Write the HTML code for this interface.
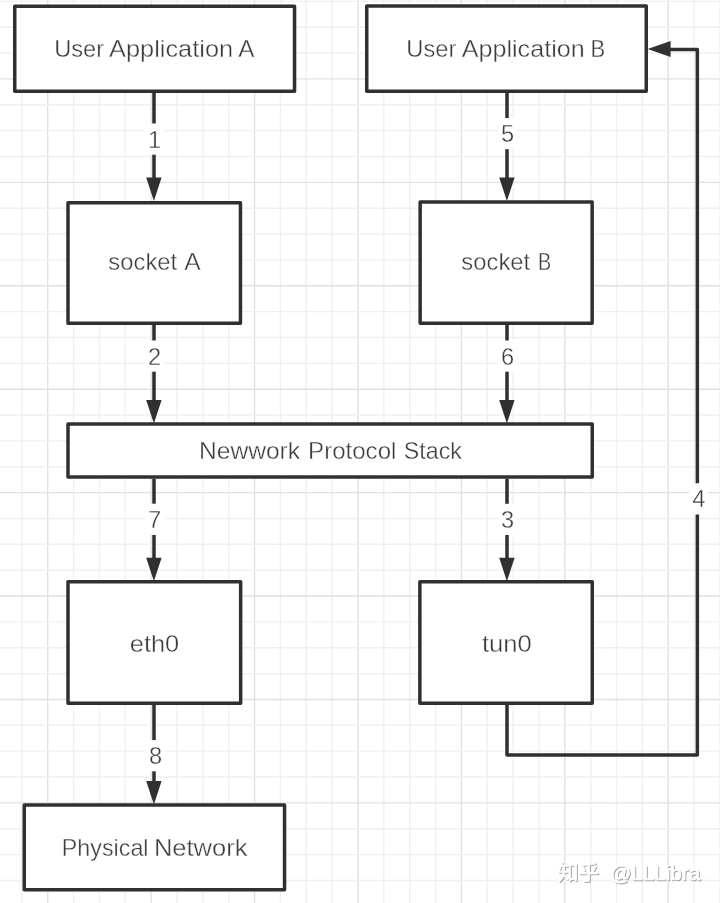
<!DOCTYPE html>
<html lang="en">
<head>
<meta charset="utf-8">
<title>TUN device data flow</title>
<style>
html,body{margin:0;padding:0;background:#ffffff;}
body{width:720px;height:903px;overflow:hidden;font-family:"Liberation Sans", "Noto Sans CJK SC", sans-serif;}
svg{display:block;font-family:"Liberation Sans", "Noto Sans CJK SC", sans-serif;}
</style>
</head>
<body>
<svg width="720" height="903" viewBox="0 0 720 903">
<rect x="0" y="0" width="720" height="903" fill="#ffffff"/>
<g stroke-width="1.4"><line x1="21.85" y1="0" x2="21.85" y2="903" stroke="#f0f0f0"/><line x1="47.71" y1="0" x2="47.71" y2="903" stroke="#e1e1e1"/><line x1="73.56" y1="0" x2="73.56" y2="903" stroke="#f0f0f0"/><line x1="99.42" y1="0" x2="99.42" y2="903" stroke="#f0f0f0"/><line x1="125.27" y1="0" x2="125.27" y2="903" stroke="#f0f0f0"/><line x1="151.13" y1="0" x2="151.13" y2="903" stroke="#e1e1e1"/><line x1="176.99" y1="0" x2="176.99" y2="903" stroke="#f0f0f0"/><line x1="202.84" y1="0" x2="202.84" y2="903" stroke="#f0f0f0"/><line x1="228.70" y1="0" x2="228.70" y2="903" stroke="#f0f0f0"/><line x1="254.55" y1="0" x2="254.55" y2="903" stroke="#e1e1e1"/><line x1="280.41" y1="0" x2="280.41" y2="903" stroke="#f0f0f0"/><line x1="306.27" y1="0" x2="306.27" y2="903" stroke="#f0f0f0"/><line x1="332.12" y1="0" x2="332.12" y2="903" stroke="#f0f0f0"/><line x1="357.98" y1="0" x2="357.98" y2="903" stroke="#e1e1e1"/><line x1="383.83" y1="0" x2="383.83" y2="903" stroke="#f0f0f0"/><line x1="409.69" y1="0" x2="409.69" y2="903" stroke="#f0f0f0"/><line x1="435.55" y1="0" x2="435.55" y2="903" stroke="#f0f0f0"/><line x1="461.40" y1="0" x2="461.40" y2="903" stroke="#e1e1e1"/><line x1="487.26" y1="0" x2="487.26" y2="903" stroke="#f0f0f0"/><line x1="513.11" y1="0" x2="513.11" y2="903" stroke="#f0f0f0"/><line x1="538.97" y1="0" x2="538.97" y2="903" stroke="#f0f0f0"/><line x1="564.83" y1="0" x2="564.83" y2="903" stroke="#e1e1e1"/><line x1="590.68" y1="0" x2="590.68" y2="903" stroke="#f0f0f0"/><line x1="616.54" y1="0" x2="616.54" y2="903" stroke="#f0f0f0"/><line x1="642.39" y1="0" x2="642.39" y2="903" stroke="#f0f0f0"/><line x1="668.25" y1="0" x2="668.25" y2="903" stroke="#e1e1e1"/><line x1="694.11" y1="0" x2="694.11" y2="903" stroke="#f0f0f0"/><line x1="719.96" y1="0" x2="719.96" y2="903" stroke="#f0f0f0"/><line x1="0" y1="1.34" x2="720" y2="1.34" stroke="#f0f0f0"/><line x1="0" y1="27.20" x2="720" y2="27.20" stroke="#f0f0f0"/><line x1="0" y1="53.06" x2="720" y2="53.06" stroke="#f0f0f0"/><line x1="0" y1="78.91" x2="720" y2="78.91" stroke="#e1e1e1"/><line x1="0" y1="104.77" x2="720" y2="104.77" stroke="#f0f0f0"/><line x1="0" y1="130.62" x2="720" y2="130.62" stroke="#f0f0f0"/><line x1="0" y1="156.48" x2="720" y2="156.48" stroke="#f0f0f0"/><line x1="0" y1="182.34" x2="720" y2="182.34" stroke="#e1e1e1"/><line x1="0" y1="208.19" x2="720" y2="208.19" stroke="#f0f0f0"/><line x1="0" y1="234.05" x2="720" y2="234.05" stroke="#f0f0f0"/><line x1="0" y1="259.90" x2="720" y2="259.90" stroke="#f0f0f0"/><line x1="0" y1="285.76" x2="720" y2="285.76" stroke="#e1e1e1"/><line x1="0" y1="311.62" x2="720" y2="311.62" stroke="#f0f0f0"/><line x1="0" y1="337.47" x2="720" y2="337.47" stroke="#f0f0f0"/><line x1="0" y1="363.33" x2="720" y2="363.33" stroke="#f0f0f0"/><line x1="0" y1="389.18" x2="720" y2="389.18" stroke="#e1e1e1"/><line x1="0" y1="415.04" x2="720" y2="415.04" stroke="#f0f0f0"/><line x1="0" y1="440.90" x2="720" y2="440.90" stroke="#f0f0f0"/><line x1="0" y1="466.75" x2="720" y2="466.75" stroke="#f0f0f0"/><line x1="0" y1="492.61" x2="720" y2="492.61" stroke="#e1e1e1"/><line x1="0" y1="518.46" x2="720" y2="518.46" stroke="#f0f0f0"/><line x1="0" y1="544.32" x2="720" y2="544.32" stroke="#f0f0f0"/><line x1="0" y1="570.18" x2="720" y2="570.18" stroke="#f0f0f0"/><line x1="0" y1="596.03" x2="720" y2="596.03" stroke="#e1e1e1"/><line x1="0" y1="621.89" x2="720" y2="621.89" stroke="#f0f0f0"/><line x1="0" y1="647.74" x2="720" y2="647.74" stroke="#f0f0f0"/><line x1="0" y1="673.60" x2="720" y2="673.60" stroke="#f0f0f0"/><line x1="0" y1="699.46" x2="720" y2="699.46" stroke="#e1e1e1"/><line x1="0" y1="725.31" x2="720" y2="725.31" stroke="#f0f0f0"/><line x1="0" y1="751.17" x2="720" y2="751.17" stroke="#f0f0f0"/><line x1="0" y1="777.02" x2="720" y2="777.02" stroke="#f0f0f0"/><line x1="0" y1="802.88" x2="720" y2="802.88" stroke="#e1e1e1"/><line x1="0" y1="828.74" x2="720" y2="828.74" stroke="#f0f0f0"/><line x1="0" y1="854.59" x2="720" y2="854.59" stroke="#f0f0f0"/><line x1="0" y1="880.45" x2="720" y2="880.45" stroke="#f0f0f0"/></g>
<g fill="#ffffff" stroke="#303030" stroke-width="3.5" stroke-linejoin="round"><rect x="14.75" y="6.15" width="279.80" height="85.20"/><rect x="366.75" y="6.05" width="279.50" height="85.30"/><rect x="68.00" y="202.75" width="172.45" height="120.50"/><rect x="420.15" y="201.95" width="172.00" height="121.30"/><rect x="68.00" y="424.05" width="524.25" height="53.00"/><rect x="68.00" y="581.75" width="172.65" height="121.50"/><rect x="419.85" y="581.75" width="172.40" height="121.50"/><rect x="24.25" y="805.05" width="260.30" height="84.70"/></g>
<g stroke="#303030" stroke-width="3.5" fill="none"><line x1="154.0" y1="93" x2="154.0" y2="180.2"/><line x1="507.0" y1="93" x2="507.0" y2="180.2"/><line x1="154.0" y1="325" x2="154.0" y2="402.6"/><line x1="507.0" y1="325" x2="507.0" y2="402.6"/><line x1="154.0" y1="478.7" x2="154.0" y2="560.5"/><line x1="507.0" y1="478.7" x2="507.0" y2="560.5"/><line x1="154.0" y1="705" x2="154.0" y2="783.8"/><polyline points="507.0,705 507.0,754.9 697.35,754.9 697.35,49.5 668,49.5" fill="none" stroke-linejoin="round"/></g>
<g fill="#303030"><polygon points="146.2,177.5 161.6,177.5 153.9,201.0"/><polygon points="499.2,177.5 514.6,177.5 506.9,201.0"/><polygon points="146.2,399.90000000000003 161.6,399.90000000000003 153.9,423.40000000000003"/><polygon points="499.2,399.90000000000003 514.6,399.90000000000003 506.9,423.40000000000003"/><polygon points="146.2,557.8 161.6,557.8 153.9,581.3"/><polygon points="499.2,557.8 514.6,557.8 506.9,581.3"/><polygon points="146.2,781.0999999999999 161.6,781.0999999999999 153.9,804.5999999999999"/><polygon points="670.6,41.0 670.6,56.9 647.6,48.95"/></g>
<g fill="#ffffff"><rect x="145.10" y="123.50" width="18.8" height="31.2"/><rect x="498.10" y="118.00" width="18.8" height="31.2"/><rect x="145.10" y="340.50" width="18.8" height="31.2"/><rect x="498.10" y="340.50" width="18.8" height="31.2"/><rect x="145.10" y="503.70" width="18.8" height="31.2"/><rect x="498.10" y="503.80" width="18.8" height="31.2"/><rect x="146.00" y="740.10" width="18.8" height="31.2"/><rect x="689.25" y="483.30" width="18.8" height="31.2"/></g>
<g fill="#3c3c3c" font-size="23.0" text-anchor="middle" opacity="0.999" stroke="#ffffff" stroke-width="0.35"><text transform="translate(154.70,147.60) scale(1.03,1)">1</text><text transform="translate(507.70,142.10) scale(1.03,1)">5</text><text transform="translate(154.70,364.60) scale(1.03,1)">2</text><text transform="translate(507.70,364.60) scale(1.03,1)">6</text><text transform="translate(154.70,527.80) scale(1.03,1)">7</text><text transform="translate(507.70,527.90) scale(1.03,1)">3</text><text transform="translate(155.60,764.20) scale(1.03,1)">8</text><text transform="translate(698.85,507.40) scale(1.03,1)">4</text></g>
<g fill="#3c3c3c" font-size="23.4" opacity="0.999" stroke="#ffffff" stroke-width="0.35"><text y="56.8"><tspan x="54.16" textLength="49.99" lengthAdjust="spacingAndGlyphs">User</tspan> <tspan x="109.06" textLength="124.08" lengthAdjust="spacingAndGlyphs">Application</tspan> <tspan x="238.28" textLength="16.24" lengthAdjust="spacingAndGlyphs">A</tspan></text><text y="56.8"><tspan x="406.36" textLength="50.07" lengthAdjust="spacingAndGlyphs">User</tspan> <tspan x="461.77" textLength="122.89" lengthAdjust="spacingAndGlyphs">Application</tspan> <tspan x="590.39" textLength="14.69" lengthAdjust="spacingAndGlyphs">B</tspan></text><text y="269.9"><tspan x="108.36" textLength="68.78" lengthAdjust="spacingAndGlyphs">socket</tspan> <tspan x="184.22" textLength="16.42" lengthAdjust="spacingAndGlyphs">A</tspan></text><text y="269.9"><tspan x="461.36" textLength="68.78" lengthAdjust="spacingAndGlyphs">socket</tspan> <tspan x="537.91" textLength="13.18" lengthAdjust="spacingAndGlyphs">B</tspan></text><text y="458.7"><tspan x="198.97" textLength="101.12" lengthAdjust="spacingAndGlyphs">Newwork</tspan> <tspan x="308.09" textLength="88.30" lengthAdjust="spacingAndGlyphs">Protocol</tspan> <tspan x="403.84" textLength="58.07" lengthAdjust="spacingAndGlyphs">Stack</tspan></text><text y="651.9"><tspan x="129.77" textLength="49.51" lengthAdjust="spacingAndGlyphs">eth0</tspan></text><text y="651.9"><tspan x="481.92" textLength="49.88" lengthAdjust="spacingAndGlyphs">tun0</tspan></text><text y="855.5"><tspan x="61.83" textLength="86.71" lengthAdjust="spacingAndGlyphs">Physical</tspan> <tspan x="153.92" textLength="93.59" lengthAdjust="spacingAndGlyphs">Network</tspan></text></g>
<g font-size="20.5" font-family='"Liberation Sans", "Noto Sans CJK SC", sans-serif' stroke-linejoin="round" opacity="0.999"><text transform="translate(558.7,881.2) scale(1.008,1)" fill="#7d7d7d" fill-opacity="0.6" stroke="#7d7d7d" stroke-opacity="0.6" stroke-width="0.7">知乎 <tspan dx="5.5">@LLLibra</tspan></text><text transform="translate(557.7,880.2) scale(1.008,1)" fill="#ffffff" stroke="#ffffff" stroke-width="0.7">知乎 <tspan dx="5.5">@LLLibra</tspan></text></g>
</svg>
</body>
</html>
